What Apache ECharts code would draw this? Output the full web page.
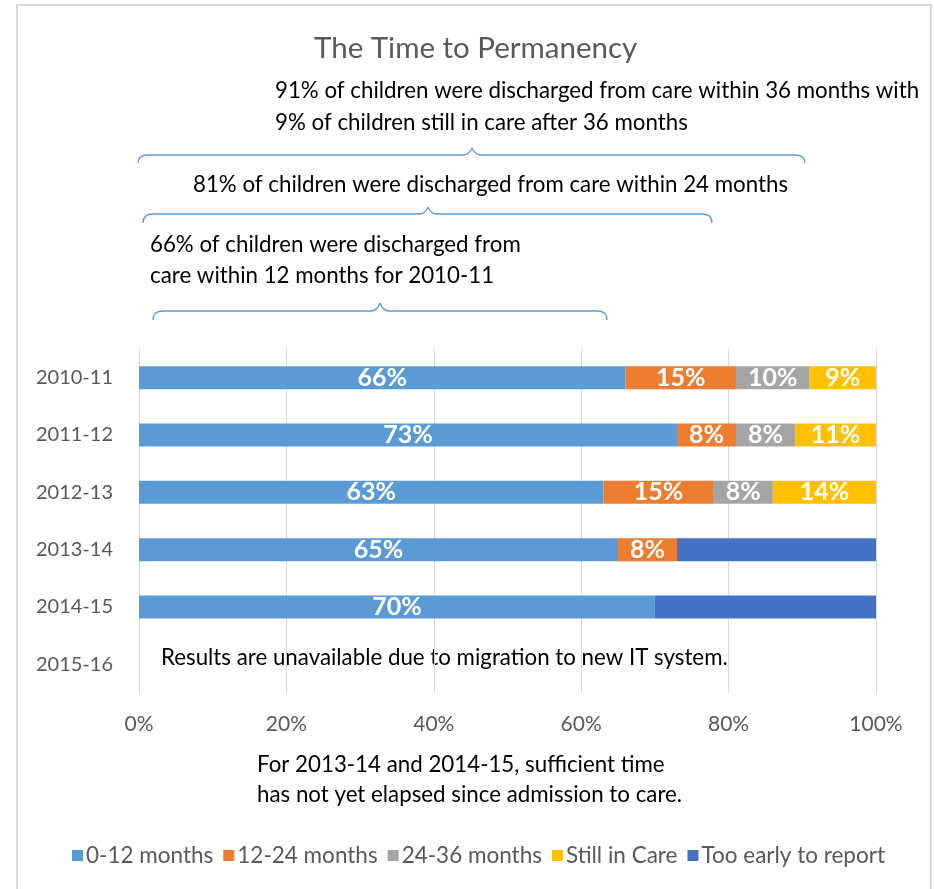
<!DOCTYPE html>
<html>
<head>
<meta charset="utf-8">
<script src="https://cdn.jsdelivr.net/npm/echarts@6/dist/echarts.min.js"></script>
<style>
html,body{margin:0;padding:0;background:#fff;}
#chart{width:934px;height:889px;}
</style>
</head>
<body>
<div id="chart"></div>
<script>
var categories = ['2010-11','2011-12','2012-13','2013-14','2014-15','2015-16'];
var months0to12 = [66,73,63,65,70,null];
var months12to24 = [15,8,15,8,null,null];
var months24to36 = [10,8,8,null,null,null];
var stillInCare = [9,11,14,null,null,null];
var tooEarly = [null,null,null,27,30,null];
var xTicks = [0,20,40,60,80,100];

var FONT = 'Lato, "Open Sans", sans-serif';
var chart = echarts.init(document.getElementById('chart'));

function brace(x1, x2, tip, y, drop, rise) {
  var r = 10;
  var st = {stroke:'#5B9BD5', lineWidth:1.3, fill:null};
  return {type:'group', silent:true, children:[
    {type:'bezierCurve', shape:{x1:x1, y1:y+drop, cpx1:x1, cpy1:y, x2:x1+r, y2:y}, style:st},
    {type:'line', shape:{x1:x1+r, y1:y, x2:tip-9, y2:y}, style:st},
    {type:'bezierCurve', shape:{x1:tip-9, y1:y, cpx1:tip-3, cpy1:y, x2:tip, y2:y-rise}, style:st},
    {type:'bezierCurve', shape:{x1:tip, y1:y-rise, cpx1:tip+3, cpy1:y, x2:tip+9, y2:y}, style:st},
    {type:'line', shape:{x1:tip+9, y1:y, x2:x2-r, y2:y}, style:st},
    {type:'bezierCurve', shape:{x1:x2-r, y1:y, cpx1:x2, cpy1:y, x2:x2, y2:y+drop}, style:st}
  ]};
}
function txt(x, y, s) {
  return {type:'text', x:x, y:y, silent:true,
    style:{text:s, fill:'#000', fontSize:22.3, fontFamily:FONT, textVerticalAlign:'middle'}};
}

function barSeries(name, data, color, showLabel) {
  return {
    name: name, type: 'bar', stack: 'total', data: data, barWidth: 23,
    itemStyle: {color: color},
    label: {show: showLabel, color: '#fff', fontWeight: 'bold', fontSize: 25, fontFamily: FONT,
      formatter: function(p){ return p.value == null ? '' : p.value + '%'; }},
    emphasis: {disabled: true}
  };
}

chart.setOption({
  animation: false,
  backgroundColor: '#fff',
  title: {text: 'The Time to Permanency', left: 309, top: 28,
    textStyle: {color: '#595959', fontSize: 29.5, fontWeight: 'normal', fontFamily: FONT}},
  grid: {left: 139, right: 58, top: 349, bottom: 196, containLabel: false},
  xAxis: {type: 'value', min: 0, max: 100, interval: 20,
    axisLine: {show: false}, axisTick: {show: false},
    splitLine: {lineStyle: {color: '#d9d9d9', width: 1}},
    axisLabel: {color: '#595959', fontSize: 21, fontFamily: FONT, margin: 21,
      formatter: function(v){ return xTicks.indexOf(v) >= 0 ? v + '%' : ''; }}},
  yAxis: {type: 'category', data: categories, inverse: true,
    axisLine: {show: false}, axisTick: {show: false},
    axisLabel: {color: '#595959', fontSize: 20, fontFamily: FONT, margin: 26}},
  legend: {bottom: 17, left: 67, itemWidth: 11, itemHeight: 11, itemGap: 10, icon: 'rect',
    textStyle: {color: '#595959', fontSize: 22.5, fontFamily: FONT, padding: [0,0,0,-2]},
    data: ['0-12 months','12-24 months','24-36 months','Still in Care','Too early to report']},
  series: [
    barSeries('0-12 months', months0to12, '#5B9BD5', true),
    barSeries('12-24 months', months12to24, '#ED7D31', true),
    barSeries('24-36 months', months24to36, '#A5A5A5', true),
    barSeries('Still in Care', stillInCare, '#FFC000', true),
    barSeries('Too early to report', tooEarly, '#4472C4', false)
  ],
  graphic: [
    {type:'rect', silent:true, shape:{x:17, y:5, width:914, height:895}, style:{fill:null, stroke:'#d9d9d9', lineWidth:2}},
    txt(275, 91, '91% of children were discharged from care within 36 months with'),
    txt(275, 123, '9% of children still in care after 36 months'),
    brace(138, 805, 472, 155, 8, 7),
    txt(193, 185, '81% of children were discharged from care within 24 months'),
    brace(143, 712, 428, 214, 9, 7),
    txt(150, 245, '66% of children were discharged from'),
    txt(150, 276, 'care within 12 months for 2010-11'),
    brace(153, 607, 380, 311, 9, 8),
    txt(161, 658, 'Results are unavailable due to migration to new IT system.'),
    txt(257, 765, 'For 2013-14 and 2014-15, sufficient time'),
    txt(257, 795, 'has not yet elapsed since admission to care.')
  ]
});
</script>
</body>
</html>
